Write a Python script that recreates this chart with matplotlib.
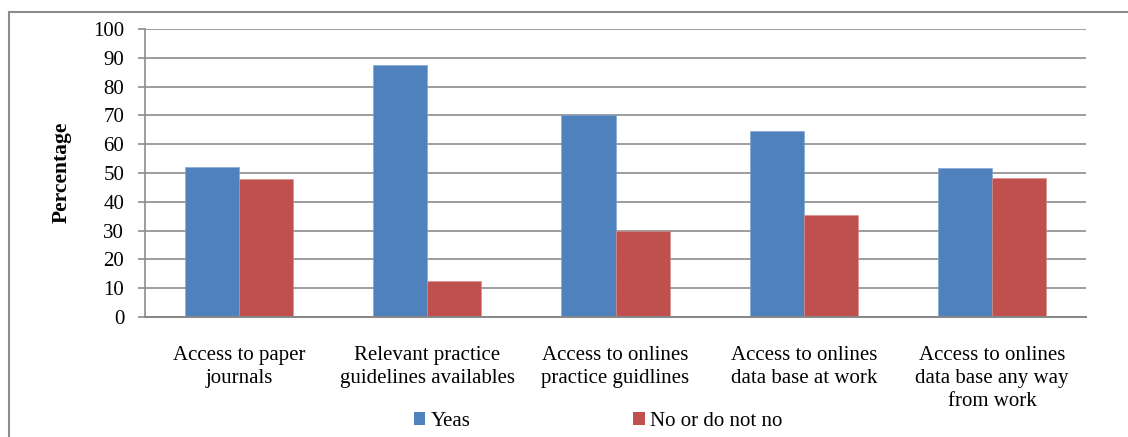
import numpy as np
import matplotlib.pyplot as plt
from matplotlib.patches import Rectangle, Patch

plt.rcParams['font.family'] = ['Liberation Serif', 'DejaVu Serif']

categories = [
    "Access to paper\njournals",
    "Relevant practice\nguidelines availables",
    "Access to onlines\npractice guidlines",
    "Access to onlines\ndata base at work",
    "Access to onlines\ndata base any way\nfrom work",
]
yes_vals = [52.1, 87.6, 70.2, 64.6, 51.7]
no_vals = [47.9, 12.4, 29.8, 35.4, 48.3]
series_names = ["Yeas", "No or do not no"]

blue = "#4F81BD"
red = "#C0504D"
grey = "#8C8C8C"

W, H = 1128, 437
fig = plt.figure(figsize=(W / 100, H / 100), dpi=100)
ax = fig.add_axes([145 / W, 1 - 317 / H, (1086 - 145) / W, (317 - 29) / H])

x = np.arange(len(categories))
w = 0.287
ax.bar(x - w / 2, yes_vals, w, color=blue, edgecolor="#7FA3D1", linewidth=0.4, zorder=3)
ax.bar(x + w / 2, no_vals, w, color=red, edgecolor="#D98C8A", linewidth=0.4, zorder=3)

ax.set_xlim(-0.5, len(categories) - 0.5)
ax.set_ylim(0, 100)
ax.set_yticks(range(0, 101, 10))
ax.yaxis.grid(True, color=grey, linewidth=1.2, zorder=0)
ax.set_axisbelow(True)

for s in ["top", "right"]:
    ax.spines[s].set_visible(False)
ax.spines["left"].set_color(grey)
ax.spines["left"].set_linewidth(1.2)
ax.spines["bottom"].set_color("#868686")
ax.spines["bottom"].set_linewidth(1.4)
ax.spines["bottom"].set_zorder(4)

ax.tick_params(axis="y", direction="out", length=5, width=1.2, color=grey,
               pad=10, labelsize=15)
ax.set_xticks(x)
ax.set_xticklabels(categories)
ax.tick_params(axis="x", length=0, pad=21, labelsize=15)
for lab in ax.get_xticklabels():
    lab.set_linespacing(1.28)

fig.text(62 / W, 1 - 172 / H, "Percentage", rotation=90, ha="center", va="center",
         fontsize=15.5, fontweight="bold")

handles = [Patch(facecolor=blue, edgecolor="none"), Patch(facecolor=red, edgecolor="none")]
fig.legend(handles, series_names, loc="center", bbox_to_anchor=(598 / W, 1 - 421 / H),
           ncol=2, frameon=False, fontsize=15, handlelength=0.57, handleheight=0.57,
           handletextpad=0.25, columnspacing=7.8, borderpad=0.1)

# outer chart border, running off the right and bottom edges
fig.patches.append(Rectangle((9 / W, -0.1), 1.2, 1.1 - 12 / H, transform=fig.transFigure,
                             fill=False, edgecolor=grey, linewidth=1.5))

fig.savefig("out.png", dpi=100)
